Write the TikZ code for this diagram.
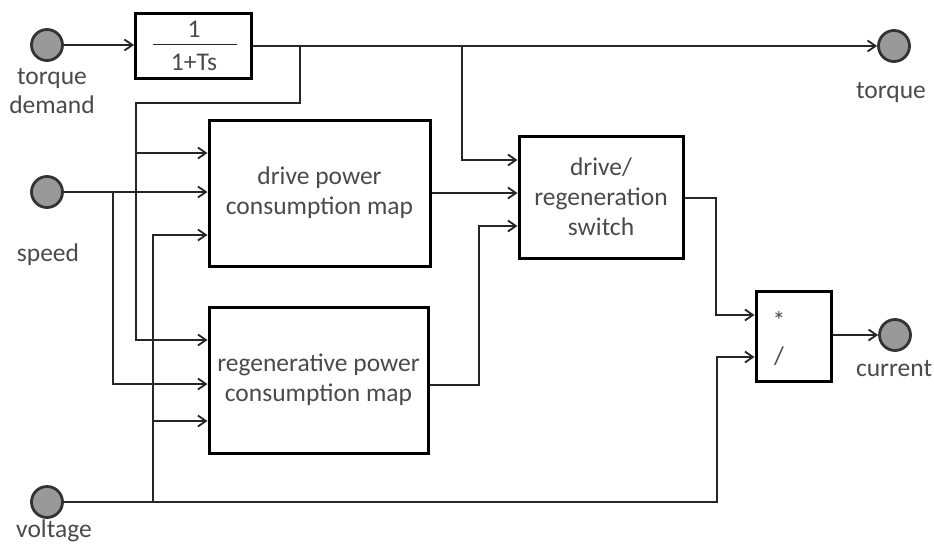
\documentclass[tikz,border=0pt]{standalone}
\usepackage{fontspec}
\setmainfont{Carlito}
\usetikzlibrary{arrows.meta}
\definecolor{txt}{HTML}{4A4A4A}
\definecolor{port}{HTML}{999999}
\begin{document}
\begin{tikzpicture}[x=1pt,y=-1pt,
  blk/.style={draw=black,line width=3pt,inner sep=0pt,align=center,text=txt,
    font=\fontsize{25.5}{30}\selectfont},
  portc/.style={circle,draw=black!80,fill=port,line width=2.8pt,minimum size=31pt,inner sep=0pt},
  lbl/.style={text=txt,font=\fontsize{25.5}{30}\selectfont,align=center,inner sep=0pt},
  wire/.style={line width=1.8pt,draw=black!85},
  arr/.style={wire,-{Straight Barb[length=8pt,width=11pt,line width=1.8pt]}}
]
\useasboundingbox (0,0) rectangle (934,546);
% ports
\node[portc] (td) at (47,45) {};
\node[portc] (sp) at (47,192) {};
\node[portc] (vo) at (47,502) {};
\node[portc] (tq) at (894,46) {};
\node[portc] (cu) at (895,335) {};
\node[lbl] (tdl) at (52,91) {torque\\[-1pt]demand};
\node[lbl] (spl) at (48,255) {speed};
\node[lbl] (vol) at (54,531) {voltage};
\node[lbl] (tql) at (891,92) {torque};
\node[lbl] (cul) at (894,369) {current};
% blocks
\node[blk,minimum width=116pt,minimum height=65pt] (tf) at (193.5,45.5) {};
\node[lbl] (tfn) at (194,29) {1};
\node[lbl] (tfd) at (194,62) {1+Ts};
\draw[wire] ([xshift=-41pt,yshift=1pt]tf.center) -- ([xshift=43pt,yshift=1pt]tf.center);
\node[blk,minimum width=221pt,minimum height=146pt] (dr) at (319.5,193) {drive power\\consumption map};
\node[blk,minimum width=219pt,minimum height=146pt] (rg) at (318.5,380) {regenerative power\\consumption map};
\node[blk,minimum width=164pt,minimum height=122pt] (sw) at (601,197) {drive/\\regeneration\\switch};
\node[blk,minimum width=75pt,minimum height=90pt] (mu) at (793.5,336) {};
\node[lbl] (mus) at (779,320) {*};
\node[lbl] (mud) at (779,356) {/};
% junction coordinates
\coordinate (j1) at (300,45);
\coordinate (j1a) at (300,103);
\coordinate (j1b) at (136,103);
\coordinate (j1c) at (136,153);
\coordinate (j1d) at (136,340);
\coordinate (j2) at (462,45);
\coordinate (j3) at (113,192);
\coordinate (j3a) at (113,384);
\coordinate (j4) at (153,502);
\coordinate (j4a) at (153,235);
\coordinate (j4b) at (153,421);
\coordinate (j4c) at (717,502);
\coordinate (j5) at (479,385);
\coordinate (j6) at (716,198);
% connectors
\draw[arr] (td.east) -- (tf.west |- td.east);
\draw[arr] (tf.east |- tq.west) -- (tq.west);
\draw[arr] (j1) -- (j1a) -- (j1b) -- (j1d) -- (rg.west |- j1d);
\draw[arr] (j1c) -- (dr.west |- j1c);
\draw[arr] (j2) -- (j2 |- 0,160) -- (sw.west |- 0,160);
\draw[arr] (sp.east) -- (dr.west |- sp.east);
\draw[arr] (j3) -- (j3a) -- (rg.west |- j3a);
\draw[arr] (vo.east) -- (j4c) -- (j4c |- 0,357) -- (mu.west |- 0,357);
\draw[arr] (j4) -- (j4a) -- (dr.west |- j4a);
\draw[arr] (j4b) -- (rg.west |- j4b);
\draw[arr] (dr.east |- 0,193) -- (sw.west |- 0,193);
\draw[arr] (rg.east |- j5) -- (j5) -- (j5 |- 0,226) -- (sw.west |- 0,226);
\draw[arr] (sw.east |- j6) -- (j6) -- (j6 |- 0,315) -- (mu.west |- 0,315);
\draw[arr] (mu.east |- cu.west) -- (cu.west);
\end{tikzpicture}
\end{document}
